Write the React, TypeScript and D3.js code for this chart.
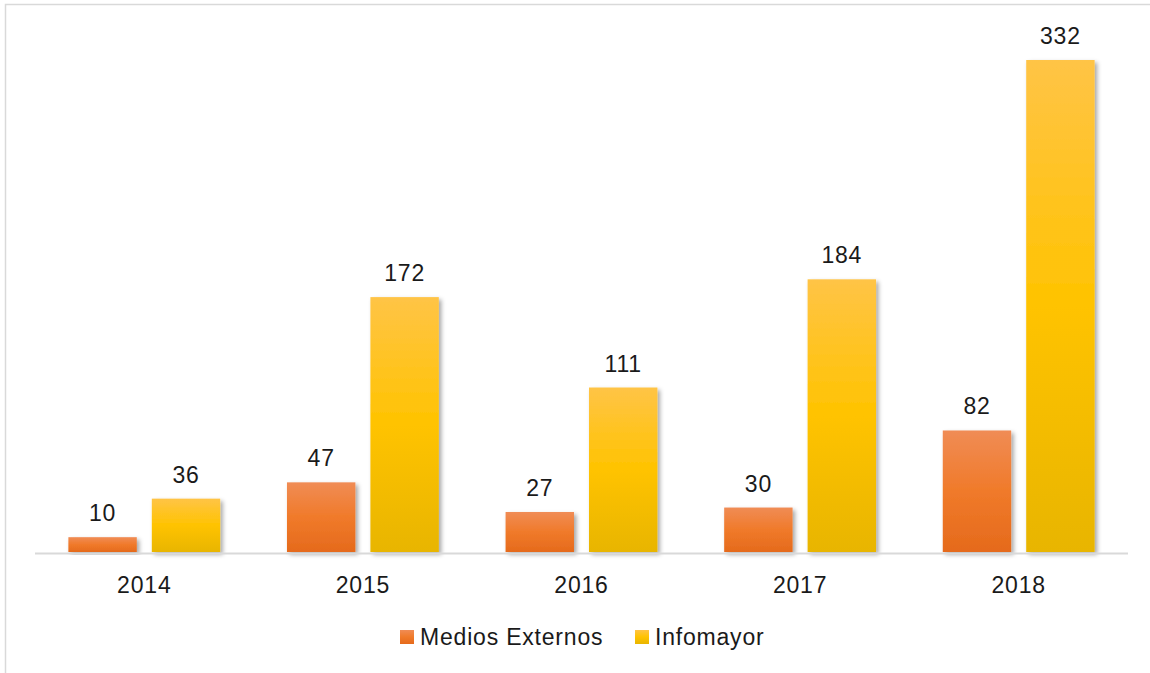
import React from "react";
import * as d3 from "d3";

const years = ["2014", "2015", "2016", "2017", "2018"];
const seriesNames = ["Medios Externos", "Infomayor"];
const mediosExternos = [10, 47, 27, 30, 82];
const infomayor = [36, 172, 111, 184, 332];

const W = 1150;
const H = 673;
const FONT = "'Liberation Sans', Arial, sans-serif";

export default function App() {
  const x0 = d3.scaleBand().domain(years).range([35, 1128]);
  const x1 = d3
    .scaleBand()
    .domain(seriesNames)
    .range([0, x0.bandwidth()])
    .paddingInner(0.18)
    .paddingOuter(0.4);
  const y = d3.scaleLinear().domain([0, 332]).range([552, 60]);

  const rows = years.map((yr, i) => ({
    year: yr,
    values: [
      { key: seriesNames[0], v: mediosExternos[i], fill: "url(#gradOrange)" },
      { key: seriesNames[1], v: infomayor[i], fill: "url(#gradYellow)" },
    ],
  }));

  return (
    <svg
      width={W}
      height={H}
      style={{ position: "absolute", left: 0, top: 0, background: "#fff" }}
    >
      <defs>
        <linearGradient id="gradOrange" x1="0" y1="0" x2="0" y2="1">
          <stop offset="0%" stopColor="#F08C55" />
          <stop offset="50%" stopColor="#F07A2A" />
          <stop offset="100%" stopColor="#E56A1C" />
        </linearGradient>
        <linearGradient id="gradYellow" x1="0" y1="0" x2="0" y2="1">
          <stop offset="0%" stopColor="#FFC446" />
          <stop offset="50%" stopColor="#FFC300" />
          <stop offset="100%" stopColor="#E8B500" />
        </linearGradient>
        <filter id="shadow" x="-20%" y="-20%" width="140%" height="140%">
          <feDropShadow dx="2.5" dy="2.5" stdDeviation="2" floodColor="#000" floodOpacity="0.35" />
        </filter>
      </defs>

      <rect x={5.5} y={4.5} width={1160} height={700} fill="none" stroke="#D9D9D9" strokeWidth={1.5} />

      {rows.map((r) => (
        <g key={r.year} transform={`translate(${x0(r.year)},0)`}>
          {r.values.map((d) => (
            <rect
              key={d.key}
              x={x1(d.key)}
              y={y(d.v)}
              width={x1.bandwidth()}
              height={y(0) - y(d.v)}
              fill={d.fill}
              filter="url(#shadow)"
            />
          ))}
        </g>
      ))}

      <line x1={35} x2={1128} y1={553.5} y2={553.5} stroke="#D9D9D9" strokeWidth={2} />

      {rows.map((r) => (
        <g key={r.year + "l"} transform={`translate(${x0(r.year)},0)`}>
          {r.values.map((d) => (
            <text
              key={d.key}
              x={(x1(d.key) as number) + x1.bandwidth() / 2}
              y={y(d.v) - 16}
              textAnchor="middle"
              fontFamily={FONT}
              fontSize={23}
              letterSpacing={0.8}
              fill="#1a1a1a"
            >
              {d.v}
            </text>
          ))}
          <text
            x={x0.bandwidth() / 2}
            y={593}
            textAnchor="middle"
            fontFamily={FONT}
            fontSize={23}
            letterSpacing={0.8}
            fill="#1a1a1a"
          >
            {r.year}
          </text>
        </g>
      ))}

      <g fontFamily={FONT} fontSize={23} letterSpacing={0.8} fill="#1a1a1a">
        <rect x={400} y={630} width={14} height={14} fill="url(#gradOrange)" />
        <text x={420} y={645}>{seriesNames[0]}</text>
        <rect x={635} y={630} width={14} height={14} fill="url(#gradYellow)" />
        <text x={655} y={645}>{seriesNames[1]}</text>
      </g>
    </svg>
  );
}
